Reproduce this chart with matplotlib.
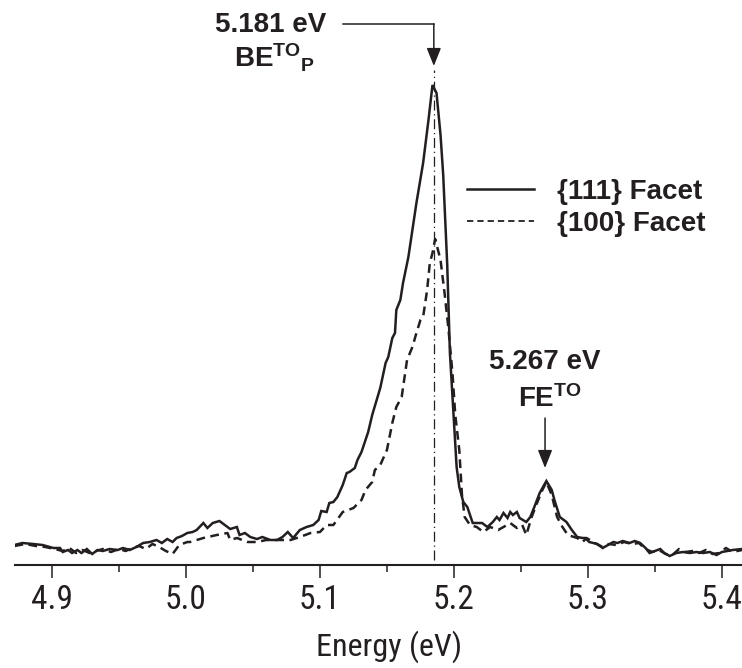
import matplotlib
matplotlib.use("Agg")
import matplotlib.pyplot as plt
from matplotlib import font_manager
from matplotlib.lines import Line2D
from matplotlib.ticker import MultipleLocator

plt.rcParams['mathtext.fontset'] = 'custom'
plt.rcParams['mathtext.rm'] = 'Liberation Sans'
plt.rcParams['mathtext.bf'] = 'Liberation Sans:bold'
plt.rcParams['font.family'] = ['Liberation Sans', 'DejaVu Sans']

# ---------------- data ----------------
facet111_energy = [4.872, 4.878, 4.886, 4.893, 4.901, 4.906, 4.908, 4.912, 4.915, 4.919,
                   4.922, 4.926, 4.930, 4.934, 4.938, 4.943, 4.949, 4.953, 4.958, 4.963,
                   4.968, 4.973, 4.978, 4.982, 4.986, 4.990, 4.993, 4.997, 5.001, 5.005,
                   5.008, 5.013, 5.016, 5.020, 5.025, 5.029, 5.033, 5.038, 5.040, 5.044,
                   5.048, 5.053, 5.057, 5.063, 5.068, 5.072, 5.076, 5.080, 5.085, 5.090,
                   5.095, 5.099, 5.101, 5.105, 5.107, 5.110, 5.113, 5.117, 5.120, 5.122,
                   5.126, 5.128, 5.131, 5.136, 5.139, 5.143, 5.145, 5.149, 5.151, 5.154,
                   5.156, 5.157, 5.160, 5.162, 5.166, 5.169, 5.172, 5.177, 5.181, 5.184,
                   5.187, 5.190, 5.192, 5.195, 5.197, 5.201, 5.202, 5.204, 5.207, 5.210,
                   5.212, 5.214, 5.221, 5.225, 5.229, 5.232, 5.234, 5.237, 5.240, 5.242,
                   5.244, 5.247, 5.249, 5.254, 5.257, 5.260, 5.264, 5.269, 5.273, 5.275,
                   5.279, 5.284, 5.288, 5.292, 5.296, 5.298, 5.301, 5.307, 5.311, 5.315,
                   5.319, 5.322, 5.326, 5.331, 5.335, 5.339, 5.343, 5.346, 5.350, 5.354,
                   5.357, 5.361, 5.366, 5.371, 5.376, 5.381, 5.386, 5.391, 5.396, 5.400,
                   5.404, 5.408, 5.415]
facet111_intensity = [20, 22, 21, 20, 17, 17, 13, 15, 12, 15,
                      12, 16, 11, 15, 14, 16, 15, 17, 15, 18,
                      22, 23, 25, 22, 26, 23, 27, 29, 32, 33,
                      35, 42, 37, 42, 44, 40, 36, 38, 30, 32,
                      28, 26, 28, 25, 25, 28, 33, 27, 35, 38,
                      40, 45, 54, 53, 62, 63, 68, 80, 92, 93,
                      97, 105, 113, 133, 150, 168, 177, 202, 208, 227,
                      232, 255, 265, 282, 308, 335, 362, 402, 445, 480,
                      472, 430, 390, 300, 212, 122, 98, 78, 63, 58,
                      50, 42, 42, 38, 43, 48, 45, 52, 47, 53,
                      50, 53, 47, 43, 48, 58, 72, 84, 75, 65,
                      48, 43, 35, 28, 27, 27, 23, 21, 17, 20,
                      23, 22, 24, 22, 24, 22, 17, 12, 14, 16,
                      12, 9, 12, 13, 12, 13, 12, 13, 10, 13,
                      14, 15, 16]

facet100_energy = [4.872, 4.880, 4.888, 4.895, 4.902, 4.908, 4.913, 4.918, 4.923, 4.928,
                   4.933, 4.938, 4.944, 4.950, 4.955, 4.960, 4.965, 4.970, 4.975, 4.980,
                   4.985, 4.990, 4.995, 5.001, 5.003, 5.013, 5.023, 5.031, 5.033, 5.038,
                   5.046, 5.053, 5.060, 5.068, 5.078, 5.085, 5.093, 5.100, 5.105, 5.110,
                   5.117, 5.125, 5.131, 5.134, 5.139, 5.141, 5.145, 5.150, 5.154, 5.157,
                   5.161, 5.165, 5.169, 5.172, 5.175, 5.177, 5.180, 5.182, 5.184, 5.186,
                   5.190, 5.193, 5.196, 5.199, 5.201, 5.204, 5.206, 5.208, 5.212, 5.217,
                   5.222, 5.227, 5.233, 5.237, 5.242, 5.247, 5.251, 5.254, 5.258, 5.262,
                   5.266, 5.269, 5.273, 5.277, 5.281, 5.285, 5.292, 5.296, 5.299, 5.305,
                   5.311, 5.316, 5.321, 5.327, 5.333, 5.338, 5.343, 5.348, 5.353, 5.358,
                   5.363, 5.368, 5.373, 5.378, 5.383, 5.388, 5.393, 5.398, 5.403, 5.408,
                   5.415]
facet100_intensity = [19, 21, 19, 18, 16, 14, 17, 12, 15, 12,
                      14, 16, 13, 16, 14, 17, 19, 16, 21, 18,
                      14, 11, 20, 23, 23, 27, 30, 32, 25, 27,
                      23, 23, 25, 25, 25, 28, 32, 33, 40, 40,
                      53, 57, 65, 75, 83, 95, 100, 115, 142, 158,
                      168, 205, 218, 232, 245, 248, 275, 302, 312, 326,
                      305, 272, 235, 190, 150, 115, 70, 48, 40, 38,
                      33, 38, 35, 38, 42, 37, 40, 30, 48, 62,
                      75, 83, 70, 48, 38, 30, 27, 23, 27, 22,
                      18, 21, 20, 23, 21, 22, 16, 13, 15, 11,
                      10, 16, 13, 14, 12, 15, 11, 12, 17, 13,
                      15]

series_labels = ['{111} Facet', '{100} Facet']
x_ticks = [4.9, 5.0, 5.1, 5.2, 5.3, 5.4]
x_label = 'Energy (eV)'
be_peak_energy = 5.185
be_label = ['5.181 eV', r'$\mathbf{BE^{TO}{}_{P}}$']
fe_peak_energy = 5.268
fe_label = ['5.267 eV', r'$\mathbf{FE^{TO}}$']

# ---------------- narrow font for axis text, if available ----------------
available = {f.name for f in font_manager.fontManager.ttflist}
narrow_candidates = ['Liberation Sans Narrow', 'Roboto Condensed', 'DejaVu Sans Condensed',
                     'Open Sans Condensed', 'Noto Sans Display Condensed']
narrow = next((n for n in narrow_candidates if n in available), None)
if narrow:
    axis_family, tick_size, label_size = [narrow, 'Liberation Sans'], 24, 23
else:
    axis_family, tick_size, label_size = ['Liberation Sans'], 21, 20.5

# ---------------- figure ----------------
ink = '#231f20'
W, H = 742, 668
fig = plt.figure(figsize=(W / 100, H / 100), dpi=100)
ax = fig.add_axes([15 / W, (H - 565) / H, 727 / W, 565 / H])
ax.set_xlim(4.8724, 5.415)
ax.set_ylim(0, 565)

dash = (0, (3.5, 2.2))
ax.plot(facet111_energy, facet111_intensity, color=ink, lw=1.8, solid_joinstyle='miter')
ax.plot(facet100_energy, facet100_intensity, color=ink, lw=1.8, linestyle=dash)

# peak marker (dash-dot)
ax.plot([be_peak_energy, be_peak_energy], [5, 495], color=ink, lw=0.9,
        linestyle=(0, (8, 3, 1, 3)))

arrow_style = dict(arrowstyle='-|>,head_length=0.55,head_width=0.22',
                   color=ink, lw=1.1, mutation_scale=20, shrinkA=0, shrinkB=0)

# BE annotation
ax.plot([5.117, be_peak_energy], [541, 541], color=ink, lw=1.1)
ax.annotate('', xy=(be_peak_energy, 499), xytext=(be_peak_energy, 541),
            arrowprops=arrow_style)
ax.text(5.0635, 540, be_label[0], ha='center', va='center', fontsize=20,
        fontweight='bold', color=ink)
ax.text(5.0355, 497, be_label[1], ha='left', va='baseline', fontsize=20, color=ink)

# FE annotation
ax.annotate('', xy=(fe_peak_energy, 97), xytext=(fe_peak_energy, 147),
            arrowprops=arrow_style)
ax.text(5.2675, 203, fe_label[0], ha='center', va='center', fontsize=20,
        fontweight='bold', color=ink)
ax.text(5.2478, 158, fe_label[1], ha='left', va='baseline', fontsize=20, color=ink)

# legend
handles = [Line2D([], [], color=ink, lw=1.8),
           Line2D([], [], color=ink, lw=1.3, linestyle=dash)]
leg = ax.legend(handles, series_labels, loc='upper left',
                bbox_to_anchor=(467 / W, 1 - 179 / H), bbox_transform=fig.transFigure,
                frameon=False, handlelength=2.4, handletextpad=0.85, labelspacing=0.2,
                borderpad=0, borderaxespad=0,
                prop={'weight': 'bold', 'size': 20})
for t in leg.get_texts():
    t.set_color(ink)

# axes styling
for s in ['left', 'top', 'right']:
    ax.spines[s].set_visible(False)
ax.spines['bottom'].set_linewidth(1.5)
ax.spines['bottom'].set_color(ink)
ax.set_yticks([])
ax.set_xticks(x_ticks)
ax.set_xticklabels([f'{v:.1f}' for v in x_ticks])
ax.xaxis.set_minor_locator(MultipleLocator(0.05))
ax.tick_params(axis='x', which='major', direction='out', length=9, width=1.1,
               pad=5, color=ink, labelcolor=ink)
ax.tick_params(axis='x', which='minor', direction='out', length=5, width=1.1, color=ink)
for lab in ax.get_xticklabels():
    lab.set_fontfamily(axis_family)
    lab.set_fontsize(tick_size)
ax.set_xlabel(x_label, fontsize=label_size, color=ink, fontfamily=axis_family)
ax.xaxis.set_label_coords((389 - 15) / 727, -0.116)

fig.savefig('out.png', dpi=100)
